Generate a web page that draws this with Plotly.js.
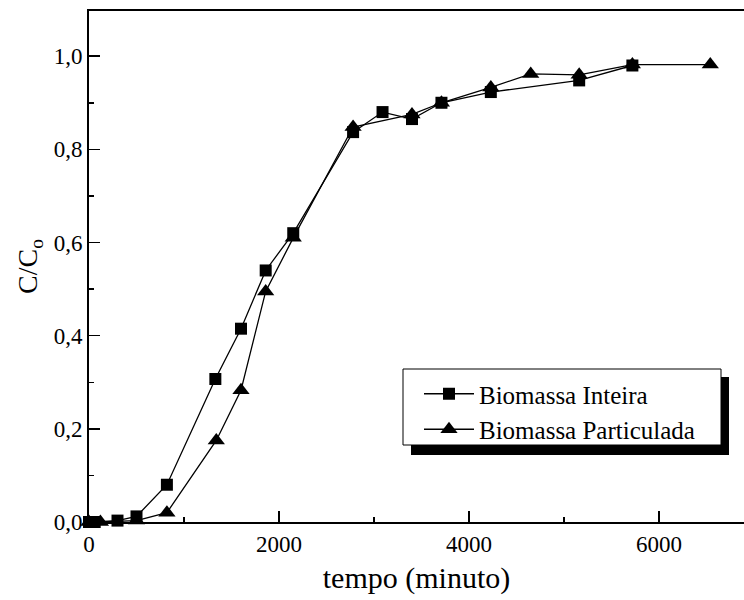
<!DOCTYPE html>
<html>
<head>
<meta charset="utf-8">
<script src="https://cdn.plot.ly/plotly-3.0.1.min.js"></script>
<style>html,body{margin:0;padding:0;background:#fff;overflow:hidden}#chart{width:744px;height:600px}</style>
</head>
<body>
<div id="chart"></div>
<script>
// Biomassa Inteira (squares)
const tempoInteira = [0, 60, 300, 500, 820, 1330, 1600, 1860, 2150, 2780, 3090, 3400, 3710, 4230, 5160, 5720];
const ccInteira    = [0, 0, 0.003, 0.012, 0.08, 0.307, 0.415, 0.54, 0.62, 0.837, 0.88, 0.865, 0.9, 0.923, 0.948, 0.98];
// Biomassa Particulada (triangles)
const tempoParticulada = [0, 120, 500, 820, 1340, 1600, 1860, 2150, 2780, 3400, 3710, 4230, 4650, 5160, 5720, 6540];
const ccParticulada    = [0, 0, 0.003, 0.02, 0.175, 0.283, 0.495, 0.61, 0.848, 0.875, 0.9, 0.933, 0.962, 0.96, 0.982, 0.982];
const seriesNames = ["Biomassa Inteira", "Biomassa Particulada"];
const xTitle = "tempo (minuto)";
const yTitle = "C/C<sub>o</sub>";

const FONT = "Liberation Serif";
const traces = [
  {x: tempoInteira, y: ccInteira, name: seriesNames[0], type: "scatter", mode: "lines+markers",
   line: {color: "#000", width: 1.3}, marker: {symbol: "square", size: 12, color: "#000"}, cliponaxis: false},
  {x: tempoParticulada, y: ccParticulada, name: seriesNames[1], type: "scatter", mode: "lines+markers",
   line: {color: "#000", width: 1.3}, marker: {symbol: "triangle-up", size: 15, color: "#000"}, cliponaxis: false}
];

// plot area geometry helpers (paper coords)
const L = 89, T = 11, B = 78, W = 744 - L, H = 600 - T - B;
const px = v => (v - L) / W;
const py = v => (600 - B - v) / H;

const layout = {
  width: 744, height: 600,
  margin: {l: L, r: 0, t: T, b: B, pad: 0},
  paper_bgcolor: "#fff", plot_bgcolor: "#fff",
  separators: ",.",
  font: {family: FONT, color: "#000", size: 22},
  showlegend: true,
  legend: {x: px(419), y: py(371), xanchor: "left", yanchor: "top",
           bgcolor: "rgba(0,0,0,0)", borderwidth: 0,
           font: {family: FONT, size: 25, color: "#000"}, itemwidth: 50, tracegroupgap: 0},
  xaxis: {range: [0, 6895], showline: true, linewidth: 2, linecolor: "#000", mirror: true,
          ticks: "inside", ticklen: 11, tickwidth: 1.5, tickcolor: "#000",
          dtick: 2000, tick0: 0, tickformat: "d", showgrid: false, zeroline: false,
          minor: {ticks: "inside", ticklen: 5, dtick: 1000, tickcolor: "#000", tickwidth: 1.5, showgrid: false},
          tickfont: {family: FONT, size: 23, color: "#000"},
          title: {text: xTitle, font: {family: FONT, size: 30, color: "#000"}, standoff: 11}},
  yaxis: {range: [0, 1.097], showline: true, linewidth: 2, linecolor: "#000", mirror: false,
          ticks: "inside", ticklen: 11, tickwidth: 1.5, tickcolor: "#000",
          dtick: 0.2, tick0: 0, tickformat: ".1f", showgrid: false, zeroline: false,
          minor: {ticks: "inside", ticklen: 5, dtick: 0.1, tickcolor: "#000", tickwidth: 1.5, showgrid: false},
          tickfont: {family: FONT, size: 23, color: "#000"},
          title: {text: yTitle, font: {family: FONT, size: 28, color: "#000"}, standoff: 8}},
  shapes: [
    {type: "rect", xref: "paper", yref: "paper", layer: "above",
     x0: px(411), x1: px(729), y0: py(455), y1: py(377), fillcolor: "#000", line: {width: 0}},
    {type: "rect", xref: "paper", yref: "paper", layer: "above",
     x0: px(403), x1: px(721), y0: py(445), y1: py(369), fillcolor: "#fff", line: {color: "#000", width: 1}}
  ]
};

Plotly.newPlot("chart", traces, layout, {displayModeBar: false, staticPlot: true});
</script>
</body>
</html>
